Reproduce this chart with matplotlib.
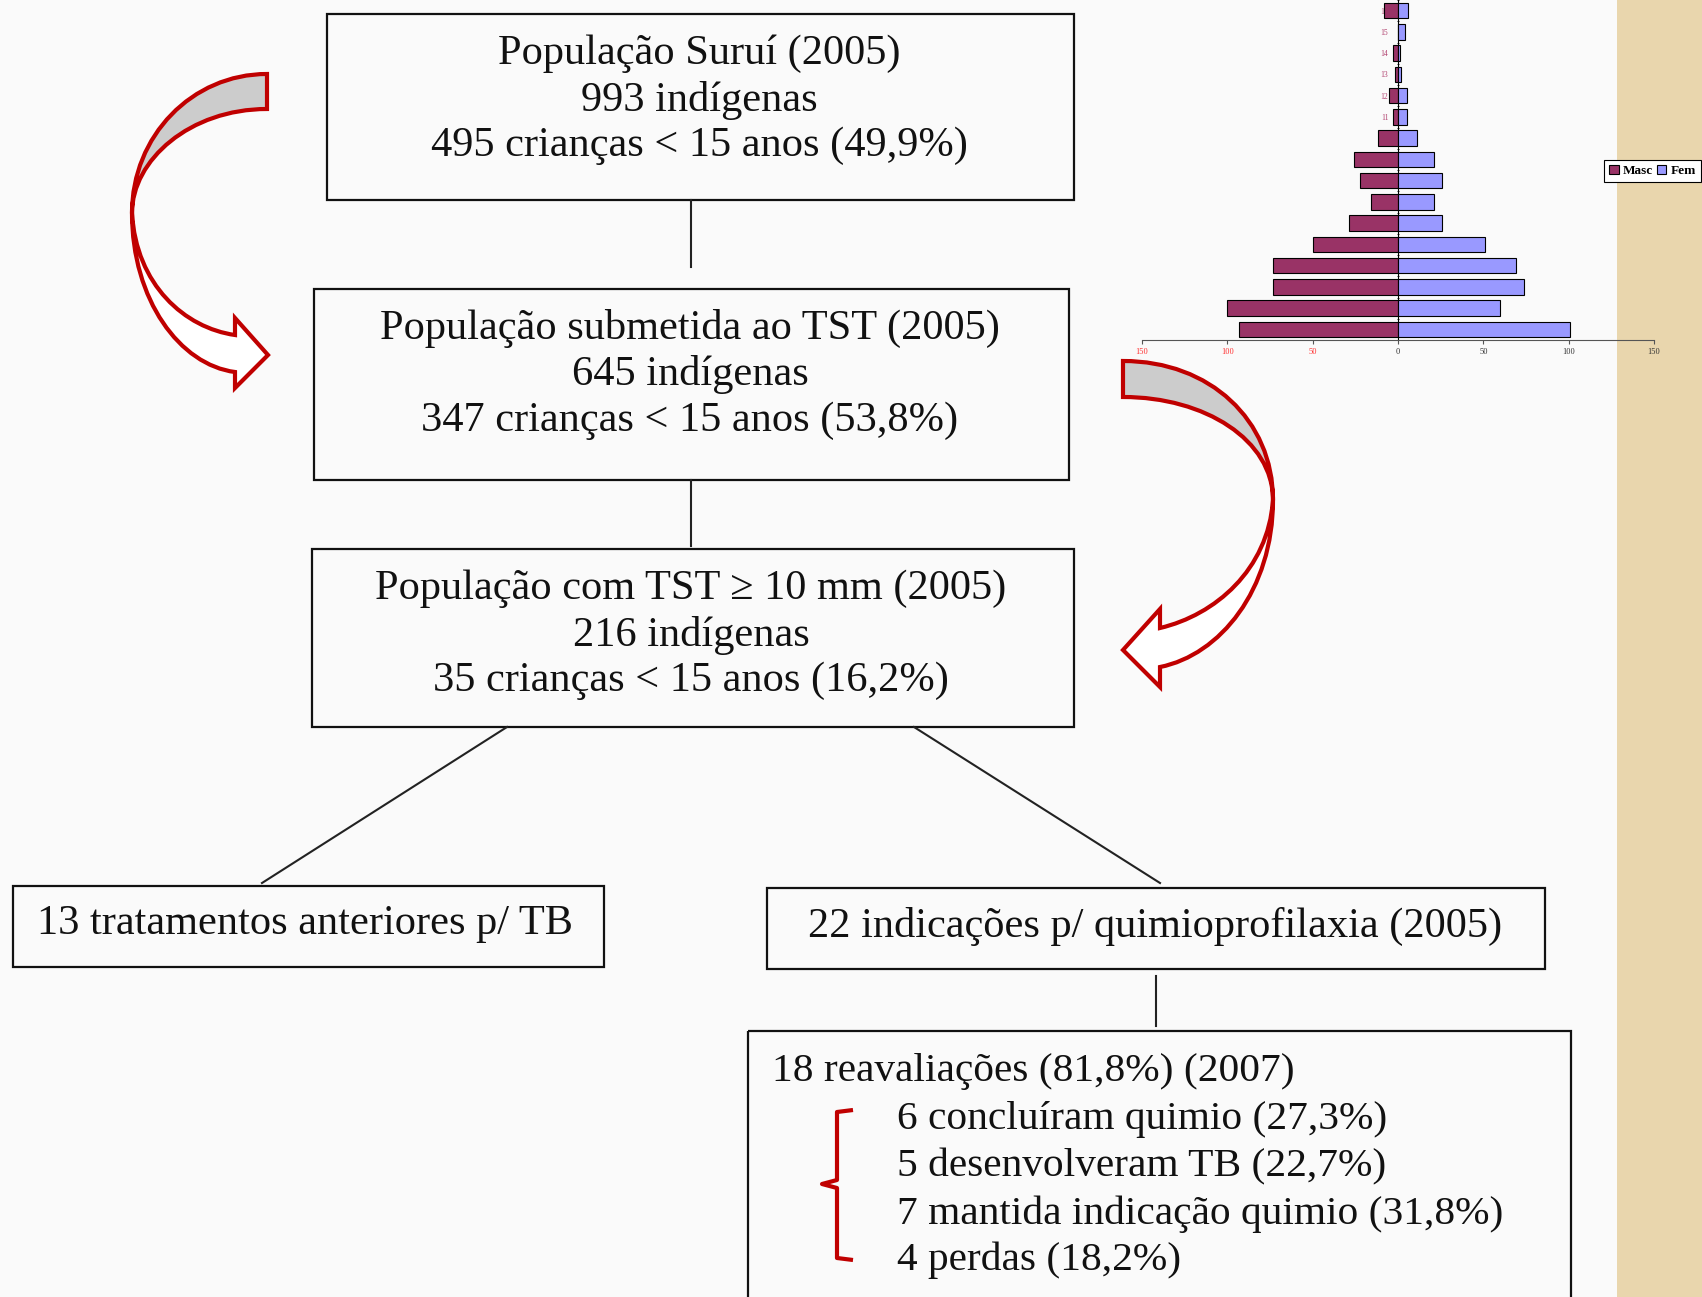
import matplotlib
matplotlib.use("Agg")
import numpy as np
import matplotlib.pyplot as plt
from matplotlib.patches import Rectangle, PathPatch
from matplotlib.path import Path

# dados da pirâmide (idade 1 embaixo)
idades = list(range(1, 17))
masc = np.array([93, 100, 73, 73, 50, 29, 16, 22, 26, 12, 3, 5, 2, 3, 0, 8])
fem = np.array([101, 60, 74, 69, 51, 26, 21, 26, 21, 11, 5, 5, 2, 1, 4, 6])
xticks = [-150, -100, -50, 0, 50, 100, 150]

# textos do fluxograma
caixa1 = ["População Suruí (2005)", "993 indígenas", "495 crianças < 15 anos (49,9%)"]
caixa2 = ["População submetida ao TST (2005)", "645 indígenas", "347 crianças < 15 anos (53,8%)"]
caixa3 = ["População com TST ≥ 10 mm (2005)", "216 indígenas", "35 crianças < 15 anos (16,2%)"]
caixa4 = "13 tratamentos anteriores p/ TB"
caixa5 = "22 indicações p/ quimioprofilaxia (2005)"
caixa6_titulo = "18 reavaliações (81,8%) (2007)"
caixa6_itens = ["6 concluíram quimio (27,3%)", "5 desenvolveram TB (22,7%)",
                "7 mantida indicação quimio (31,8%)", "4 perdas (18,2%)"]

W, H = 1702, 1297
FS = 30.5
FS6 = 29.8
serif = ["Liberation Serif", "DejaVu Serif"]

fig = plt.figure(figsize=(W / 100, H / 100), dpi=100, facecolor="#fafafa")
ax = fig.add_axes([0, 0, 1, 1])
ax.set_xlim(0, W)
ax.set_ylim(H, 0)
ax.axis("off")

# faixa de textura à direita
ax.add_patch(Rectangle((1617, 0), W - 1617, H, color="#e9d6ad", lw=0))


def caixa(x0, y0, x1, y1):
    ax.add_patch(Rectangle((x0, y0), x1 - x0, y1 - y0, fill=False,
                           edgecolor="#111111", lw=1.6))


def linha(xs, ys):
    ax.plot(xs, ys, color="#222222", lw=1.5)


def escreve(x, y, s, ha="center", fs=FS):
    off = 0.33 * fs * 100 / 72  # centro -> linha de base
    ax.text(x, y + off, s, ha=ha, va="baseline", fontsize=fs,
            family=serif, color="#111111")


caixa(327, 14, 1074, 200)
for s, y in zip(caixa1, [50, 97, 142]):
    escreve(699, y, s)
linha([691, 691], [200, 267])

caixa(314, 289, 1069, 480)
for s, y in zip(caixa2, [325, 371, 417]):
    escreve(690, y, s)
linha([691, 691], [480, 546])

caixa(312, 549, 1074, 727)
for s, y in zip(caixa3, [585, 632, 677]):
    escreve(691, y, s)

linha([507, 262], [727, 883])
linha([914, 1160], [727, 883])

caixa(13, 886, 604, 967)
escreve(305, 920, caixa4)
caixa(767, 888, 1545, 969)
escreve(1155, 923, caixa5)
linha([1156, 1156], [976, 1026])

caixa(748, 1031, 1571, 1310)
escreve(772, 1067, caixa6_titulo, ha="left", fs=FS6)
for s, y in zip(caixa6_itens, [1115, 1163, 1210, 1256]):
    escreve(897, y, s, ha="left", fs=FS6)

# chave vermelha
chave = [(853, 1110), (837, 1112), (837, 1180), (822, 1184), (837, 1188),
         (837, 1258), (853, 1260)]
ax.plot([p[0] for p in chave], [p[1] for p in chave], color="#c00000", lw=3,
        solid_joinstyle="round", solid_capstyle="butt")

# setas curvas
M, C, L, Z = Path.MOVETO, Path.CURVE4, Path.LINETO, Path.CLOSEPOLY
vermelho = "#c00000"


def forma(pts, cods, cor):
    ax.add_patch(PathPatch(Path(pts, cods), facecolor=cor, edgecolor=vermelho,
                           lw=3, joinstyle="miter"))


# seta da esquerda
forma([(267, 74), (192, 74), (132, 136), (132, 213), (132, 160), (190, 109),
       (267, 109), (267, 74)],
      [M, C, C, C, C, C, C, Z], "#cccccc")
forma([(132, 213), (132, 300), (180, 365), (235, 372), (235, 388), (268, 355),
       (235, 318), (235, 335), (185, 328), (136, 285), (132, 213), (132, 213)],
      [M, C, C, C, L, L, L, L, C, C, C, Z], "white")

# seta da direita
forma([(1123, 361), (1210, 361), (1273, 420), (1273, 500), (1273, 440),
       (1205, 397), (1123, 397), (1123, 361)],
      [M, C, C, C, C, C, C, Z], "#cccccc")
forma([(1273, 500), (1273, 590), (1220, 655), (1160, 667), (1160, 687),
       (1123, 650), (1160, 609), (1160, 628), (1215, 615), (1268, 570),
       (1273, 500), (1273, 500)],
      [M, C, C, C, L, L, L, L, C, C, C, Z], "white")

# pirâmide etária
axp = fig.add_axes([1142 / W, 1 - 340 / H, 512 / W, 340 / H])
axp.set_facecolor("none")
y = np.arange(len(idades))
axp.barh(y, -masc, height=0.72, color="#993366", edgecolor="black", lw=0.8,
         zorder=3, label="Masc")
axp.barh(y, fem, height=0.72, color="#9999ff", edgecolor="black", lw=0.8,
         zorder=3, label="Fem")
axp.set_xlim(-150, 150)
axp.set_ylim(-0.5, 15.39)
axp.spines["top"].set_visible(False)
axp.spines["right"].set_visible(False)
axp.spines["left"].set_position(("data", 0))
axp.spines["bottom"].set_color("#555555")
axp.set_xticks(xticks)
axp.set_xticklabels([str(abs(v)) for v in xticks], family=serif)
for v, lbl in zip(xticks, axp.get_xticklabels()):
    lbl.set_color("#ff3030" if v < 0 else "#333333")
axp.tick_params(axis="x", length=3, width=0.8, pad=3, labelsize=6,
                color="#555555")
axp.set_yticks(y)
axp.set_yticklabels([str(a) for a in idades], family=serif)
axp.tick_params(axis="y", length=0, labelsize=5.5, labelcolor="#b0406e", pad=7)
axp.set_yticks(y + 0.5, minor=True)
axp.tick_params(axis="y", which="minor", length=2, direction="inout")

leg = axp.legend(loc="center left", bbox_to_anchor=(1604 / W, 1 - 171 / H),
                 bbox_transform=fig.transFigure, ncol=2, fancybox=False,
                 edgecolor="black", framealpha=1, borderaxespad=0,
                 prop={"family": serif, "weight": "bold", "size": 9.5},
                 handlelength=0.7, handleheight=0.7, handletextpad=0.3,
                 columnspacing=0.35, borderpad=0.4)
leg.get_frame().set_linewidth(0.8)

fig.savefig("out.png", dpi=100, facecolor=fig.get_facecolor())
